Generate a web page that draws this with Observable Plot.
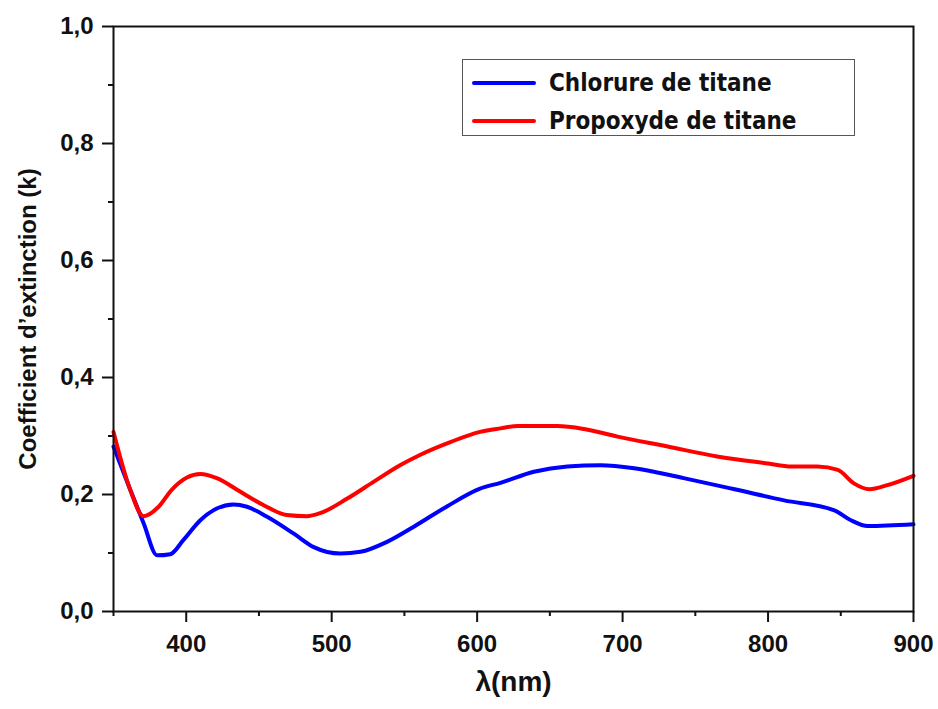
<!DOCTYPE html>
<html>
<head>
<meta charset="utf-8">
<script src="https://cdn.jsdelivr.net/npm/d3@7"></script>
<script src="https://cdn.jsdelivr.net/npm/@observablehq/plot@0.6"></script>
<style>
  body { margin: 0; background: #fff; }
  #wrap { position: relative; width: 938px; height: 709px; }
  #legend { position: absolute; left: 462px; top: 59px; width: 393px; height: 77px;
            border: 1.5px solid #555; box-sizing: border-box; background: #fff;
            font-family: "Liberation Sans Narrow", "DejaVu Sans Condensed", "Liberation Sans", sans-serif;
            font-weight: bold; font-size: 24px; color: #111; }
  .row { position: absolute; left: 9px; height: 30px; display: flex; align-items: center; }
  .sw { width: 64px; height: 4px; margin-right: 13px; border-radius: 2px; }
</style>
</head>
<body>
<div id="wrap"></div>
<script>
const seriesNames = ["Chlorure de titane", "Propoxyde de titane"];
const seriesColors = ["#0000ff", "#ff0000"];

const chlorureX = [350, 361.5, 370.7, 380, 389, 398, 409.7, 421, 432.6, 441.8, 455.6, 474, 487.7, 506, 519.8, 538, 556.5, 579.5, 602, 616, 639, 662, 685, 708, 742, 777, 811, 845.6, 857, 868.6, 900];
const chlorureK = [0.282, 0.208, 0.151, 0.096, 0.098, 0.122, 0.156, 0.176, 0.183, 0.179, 0.162, 0.133, 0.110, 0.099, 0.102, 0.119, 0.145, 0.180, 0.210, 0.220, 0.239, 0.248, 0.250, 0.245, 0.228, 0.209, 0.190, 0.173, 0.156, 0.146, 0.149];

const propoxydeX = [350, 361.5, 370.7, 381, 390, 400.5, 409.7, 421, 437, 453, 469, 483, 492, 510.7, 529, 547, 561, 582, 602, 616, 628, 655, 673.5, 696.5, 731, 765, 800, 816, 834, 848, 859, 869.7, 882, 900];
const propoxydeK = [0.307, 0.208, 0.163, 0.179, 0.208, 0.229, 0.235, 0.228, 0.205, 0.182, 0.165, 0.163, 0.168, 0.193, 0.222, 0.250, 0.268, 0.290, 0.307, 0.313, 0.317, 0.317, 0.312, 0.299, 0.282, 0.265, 0.253, 0.248, 0.248, 0.242, 0.219, 0.209, 0.216, 0.232];

const xMajorTicks = [400, 500, 600, 700, 800, 900];
const xMinorTicks = [350, 450, 550, 650, 750, 850];
const yMajorTicks = [0, 0.2, 0.4, 0.6, 0.8, 1.0];
const yMinorTicks = [0.1, 0.3, 0.5, 0.7, 0.9];
const xLabel = "λ(nm)";
const yLabel = "Coefficient d’extinction (k)";

const chlorure = chlorureX.map((x, i) => ({x, k: chlorureK[i]}));
const propoxyde = propoxydeX.map((x, i) => ({x, k: propoxydeK[i]}));

const font = "Liberation Sans, Arial, sans-serif";
const chart = Plot.plot({
  width: 938, height: 709,
  marginLeft: 113, marginRight: 25, marginTop: 26, marginBottom: 98,
  x: {domain: [350, 900]},
  y: {domain: [0, 1]},
  style: {fontFamily: font, color: "#111", background: "#fff"},
  marks: [
    Plot.axisX({ticks: xMajorTicks, tickSize: 11, strokeWidth: 2, tickPadding: 12, fontSize: 24, fontWeight: "bold", label: null, tickFormat: d => String(d)}),
    Plot.axisX({ticks: xMinorTicks, tickSize: 5, strokeWidth: 2, text: null, label: null}),
    Plot.axisY({ticks: yMajorTicks, tickSize: 11, strokeWidth: 2, tickPadding: 9, fontSize: 24, fontWeight: "bold", label: null, tickFormat: d => d.toFixed(1).replace(".", ",")}),
    Plot.axisY({ticks: yMinorTicks, tickSize: 5, strokeWidth: 2, text: null, label: null}),
    Plot.line(chlorure, {x: "x", y: "k", stroke: seriesColors[0], strokeWidth: 4, curve: "monotone-x"}),
    Plot.line(propoxyde, {x: "x", y: "k", stroke: seriesColors[1], strokeWidth: 4, curve: "monotone-x"}),
    Plot.frame({stroke: "#111", strokeWidth: 2}),
    Plot.text([xLabel], {frameAnchor: "bottom", dy: 79, fontSize: 28, fontWeight: "bold", fill: "#111"}),
    Plot.text([yLabel], {frameAnchor: "left", dx: -85, rotate: -90, textAnchor: "middle", fontSize: 24, fontWeight: "bold", fill: "#111"})
  ]
});
const wrap = document.getElementById("wrap");
wrap.appendChild(chart);

const legend = document.createElement("div");
legend.id = "legend";
seriesNames.forEach((name, i) => {
  const row = document.createElement("div");
  row.className = "row";
  row.style.top = (i === 0 ? 8 : 46) + "px";
  const sw = document.createElement("div");
  sw.className = "sw";
  sw.style.background = seriesColors[i];
  const t = document.createElement("span");
  t.textContent = name;
  row.appendChild(sw); row.appendChild(t);
  legend.appendChild(row);
});
wrap.appendChild(legend);
</script>
</body>
</html>
